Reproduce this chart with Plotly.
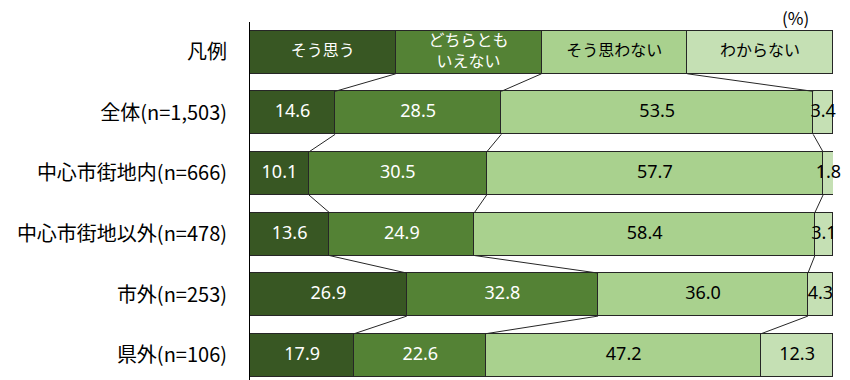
import plotly.graph_objects as go

categories = ["全体(n=1,503)", "中心市街地内(n=666)", "中心市街地以外(n=478)", "市外(n=253)", "県外(n=106)"]
legend_row_label = "凡例"
series_names = ["そう思う", "どちらとも<br>いえない", "そう思わない", "わからない"]
v_agree = [14.6, 10.1, 13.6, 26.9, 17.9]
v_neutral = [28.5, 30.5, 24.9, 32.8, 22.6]
v_disagree = [53.5, 57.7, 58.4, 36.0, 47.2]
v_unknown = [3.4, 1.8, 3.1, 4.3, 12.3]

colors = ["#385723", "#548235", "#A9D18E", "#C5E0B4"]
text_colors = ["white", "white", "black", "black"]
series_vals = [v_agree, v_neutral, v_disagree, v_unknown]

FONT = "Noto Sans CJK JP, Noto Sans, sans-serif"
NUMFONT = "Noto Sans, Liberation Sans, sans-serif"
legend_share = 100.0 / len(series_vals)
half = 0.355

rows_y = list(range(len(categories) + 1))  # 0 = legend row
fig = go.Figure()

cum = [[0.0] * len(rows_y)]
for j, vals in enumerate(series_vals):
    xs = [legend_share] + vals
    fig.add_trace(go.Bar(
        x=xs, y=rows_y, orientation="h", width=2 * half,
        marker=dict(color=colors[j], line=dict(color="#262626", width=1)),
        showlegend=False, hoverinfo="skip"))
    prev = cum[-1]
    cum.append([p + v for p, v in zip(prev, xs)])

# series connector lines
for j in range(1, len(series_vals)):
    bx, by = [], []
    for r in range(len(rows_y) - 1):
        bx += [cum[j][r], cum[j][r + 1], None]
        by += [rows_y[r] + half, rows_y[r + 1] - half, None]
    fig.add_trace(go.Scatter(x=bx, y=by, mode="lines",
                             line=dict(color="#262626", width=1),
                             showlegend=False, hoverinfo="skip"))

# data labels
for j, vals in enumerate(series_vals):
    xs = [legend_share] + vals
    mids = [c - v / 2 for c, v in zip(cum[j + 1], xs)]
    fig.add_trace(go.Scatter(
        x=mids[1:], y=rows_y[1:], mode="text", cliponaxis=False,
        text=[f"{v:.1f}" for v in vals], textposition="middle center",
        textfont=dict(family=NUMFONT, size=18, color=text_colors[j]),
        showlegend=False, hoverinfo="skip"))
    fig.add_trace(go.Scatter(
        x=[mids[0]], y=[0], mode="text", text=[series_names[j]],
        textposition="middle center", cliponaxis=False,
        textfont=dict(family=FONT, size=16, color=text_colors[j]),
        showlegend=False, hoverinfo="skip"))

fig.add_annotation(text="(%)", xref="paper", yref="paper", x=0.935, y=1.0,
                   xanchor="center", yanchor="middle", yshift=5, showarrow=False,
                   font=dict(family=FONT, size=17, color="black"))

fig.update_layout(
    width=850, height=380,
    margin=dict(l=250, r=17, t=22, b=0),
    barmode="stack", bargap=0,
    plot_bgcolor="white", paper_bgcolor="white",
    xaxis=dict(range=[0, 100], showgrid=False, zeroline=False,
               showticklabels=False, showline=False, fixedrange=True),
    yaxis=dict(range=[5.41, -0.5], tickvals=rows_y,
               ticktext=[legend_row_label] + categories,
               showgrid=False, zeroline=False, showline=True,
               linecolor="black", linewidth=1, ticks="",
               ticklabelstandoff=18,
               tickfont=dict(family=FONT, size=20, color="black")),
)

fig.write_html("out.html")
